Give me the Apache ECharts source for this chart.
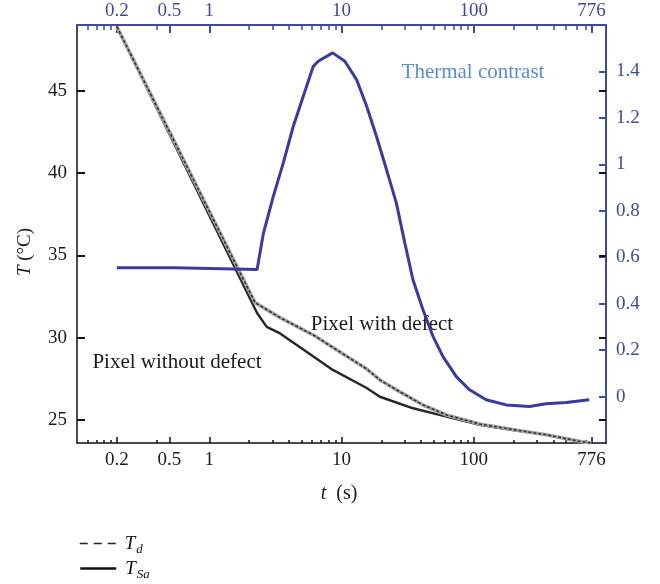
<!DOCTYPE html>
<html>
<head>
<meta charset="utf-8">
<script src="https://cdn.jsdelivr.net/npm/echarts@6/dist/echarts.min.js"></script>
<style>html,body{margin:0;padding:0;background:#fff;}#c{width:660px;height:584px;}</style>
</head>
<body>
<div id="c"></div>
<script>
// ---- data ----
const xTickVals = [0.2, 0.5, 1, 10, 100, 776];
const xTickLabels = ['0.2', '0.5', '1', '10', '100', '776'];
const xMinorVals = [0.12, 0.14, 0.16, 0.18, 0.4, 2, 3, 4, 5, 6, 7, 8, 9, 20, 30, 40, 50, 60, 70, 80, 90, 200, 300, 400, 500, 600, 700];
const tempTicks = [25, 30, 35, 40, 45];
const contrastTicks = [0, 0.2, 0.4, 0.6, 0.8, 1, 1.2, 1.4];

const tSa = [0.2, 2.3, 2.72, 3.43, 6.13, 8.6, 15.5, 19.5, 34.8, 62.2, 110.7, 197, 354, 632, 776];
const TSa = [48.9, 31.5, 30.66, 30.26, 28.86, 28.04, 26.94, 26.41, 25.71, 25.2, 24.7, 24.39, 24.09, 23.68, 23.6];

const tD = [0.2, 2.22, 3.43, 6.13, 15.5, 19.5, 27.5, 41.4, 62.2, 110.7, 197, 354, 632, 776];
const Td = [48.9, 32.13, 31.22, 30.16, 28.1, 27.43, 26.72, 25.91, 25.3, 24.75, 24.42, 24.1, 23.7, 23.6];

const tC = [0.2, 0.55, 0.56, 2.3, 2.57, 3.05, 3.63, 4.32, 5.14, 6.12, 6.67, 8.57, 10.6, 13.0, 15.5, 18.4, 21.9, 26.0, 30.1, 34.7, 41.3, 49.2, 58.5, 73.8, 93.0, 124, 176, 264, 352, 499, 747];
const contrast = [0.555, 0.555, 0.547, 0.547, 0.704, 0.862, 1.006, 1.164, 1.293, 1.422, 1.444, 1.48, 1.444, 1.365, 1.25, 1.12, 0.977, 0.833, 0.662, 0.503, 0.374, 0.259, 0.172, 0.086, 0.029, -0.014, -0.036, -0.043, -0.031, -0.026, -0.014];

// ---- chart ----
const SERIF = '"Liberation Serif", "DejaVu Serif", serif';
const BLUE = '#3d4a9e';
const LINEBLUE = '#393c9c';
const pair = (xs, ys) => xs.map((x, i) => [x, ys[i]]);
const logTicks = xTickVals.map(v => Math.log10(v));
const logMinor = xMinorVals.map(v => Math.log10(v));
const fmtX = v => { const i = logTicks.findIndex(x => Math.abs(x - v) < 1e-6); return i >= 0 ? xTickLabels[i] : ''; };

const chart = echarts.init(document.getElementById('c'));
const grid = { left: 77, right: 54, top: 25, bottom: 141 };
const legendRich = {
  i: { fontFamily: SERIF, fontStyle: 'italic', fontSize: 19, color: '#111' },
  s: { fontFamily: SERIF, fontStyle: 'italic', fontSize: 13, color: '#111', padding: [12, 0, 0, 1] }
};
const legendFmt = n => n === 'T_d' ? '{i|T}{s|d}' : '{i|T}{s|Sa}';

chart.setOption({
  animation: false,
  backgroundColor: '#fff',
  grid: grid,
  xAxis: [
    { type: 'log', logBase: 10, min: 0.1, max: 1000, position: 'bottom',
      axisLine: { show: true, onZero: false, lineStyle: { color: '#111', width: 1.5 } },
      axisTick: { show: false }, axisLabel: { show: false }, splitLine: { show: false }, minorTick: { show: false } },
    { type: 'value', min: -1, max: 3, position: 'bottom',
      axisLine: { show: false, onZero: false }, splitLine: { show: false },
      axisTick: { show: true, inside: true, length: 6, customValues: logTicks, lineStyle: { color: '#111', width: 1.5 } },
      axisLabel: { show: true, customValues: logTicks, formatter: fmtX, margin: 8, color: '#1a1a1a', fontFamily: SERIF, fontSize: 19 } },
    { type: 'value', min: -1, max: 3, position: 'bottom',
      axisLine: { show: false, onZero: false }, splitLine: { show: false }, axisLabel: { show: false },
      axisTick: { show: true, inside: true, length: 3, customValues: logMinor, lineStyle: { color: '#111', width: 1.5 } } },
    { type: 'value', min: -1, max: 3, position: 'top',
      axisLine: { show: true, onZero: false, lineStyle: { color: BLUE, width: 2 } }, splitLine: { show: false },
      axisTick: { show: true, inside: true, length: 8, customValues: logTicks, lineStyle: { color: BLUE, width: 2 } },
      axisLabel: { show: true, customValues: logTicks, formatter: fmtX, margin: 4, color: BLUE, fontFamily: SERIF, fontSize: 19 } },
    { type: 'value', min: -1, max: 3, position: 'top',
      axisLine: { show: false, onZero: false }, splitLine: { show: false }, axisLabel: { show: false },
      axisTick: { show: true, inside: true, length: 5, customValues: logMinor, lineStyle: { color: BLUE, width: 1.5 } } }
  ],
  yAxis: [
    { type: 'value', min: 23.6, max: 49, position: 'left',
      axisLine: { show: true, onZero: false, lineStyle: { color: '#111', width: 1.5 } }, splitLine: { show: false },
      axisTick: { show: true, inside: true, length: 8, customValues: tempTicks, lineStyle: { color: '#111', width: 2 } },
      axisLabel: { show: true, customValues: tempTicks, margin: 10, color: '#1a1a1a', fontFamily: SERIF, fontSize: 19 } },
    { type: 'value', min: -0.2, max: 1.6, position: 'right',
      axisLine: { show: true, onZero: false, lineStyle: { color: BLUE, width: 2 } }, splitLine: { show: false },
      axisTick: { show: true, inside: true, length: 7, customValues: contrastTicks, lineStyle: { color: BLUE, width: 2 } },
      axisLabel: { show: true, customValues: contrastTicks, margin: 10, color: BLUE, fontFamily: SERIF, fontSize: 19,
        formatter: v => String(+v.toFixed(1)) } },
    { type: 'value', min: 23.6, max: 49, position: 'right',
      axisLine: { show: false, onZero: false }, splitLine: { show: false }, axisLabel: { show: false },
      axisTick: { show: true, inside: true, length: 7, customValues: tempTicks, lineStyle: { color: '#111', width: 2 } } }
  ],
  legend: [
    { orient: 'vertical', left: 74, top: 529, itemWidth: 36, itemHeight: 14,
      data: [{ name: 'T_d', lineStyle: { type: [8, 6], width: 1.5, color: '#222' }, itemStyle: { opacity: 0 } }],
      formatter: legendFmt, textStyle: { padding: [0, 0, 0, 4], rich: legendRich } },
    { orient: 'vertical', left: 74, top: 554, itemWidth: 36, itemHeight: 14,
      data: [{ name: 'T_Sa', lineStyle: { width: 2.5, color: '#111' }, itemStyle: { opacity: 0 } }],
      formatter: legendFmt, textStyle: { padding: [0, 0, 0, 4], rich: legendRich } }
  ],
  graphic: [
    { type: 'text', x: 25, y: 252, rotation: Math.PI / 2, z: 0,
      style: { text: '{i|T} (°C)', align: 'center', verticalAlign: 'middle', textAlign: 'center', textVerticalAlign: 'middle',
        fontFamily: SERIF, fontSize: 19, fill: '#1a1a1a',
        rich: { i: { fontFamily: SERIF, fontSize: 19, fontStyle: 'italic', fill: '#1a1a1a' } } } },
    { type: 'text', x: 339, y: 494, z: 0,
      style: { text: '{i|t}  (s)', align: 'center', verticalAlign: 'middle', textAlign: 'center', textVerticalAlign: 'middle',
        fontFamily: SERIF, fontSize: 20, fill: '#1a1a1a',
        rich: { i: { fontFamily: SERIF, fontSize: 20, fontStyle: 'italic', fill: '#1a1a1a' } } } },
    { type: 'text', x: 473, y: 72, z: 0,
      style: { text: 'Thermal contrast', align: 'center', verticalAlign: 'middle', textAlign: 'center', textVerticalAlign: 'middle',
        fontFamily: SERIF, fontSize: 21, fill: '#5b8ccf' } },
    { type: 'text', x: 382, y: 324, z: 0,
      style: { text: 'Pixel with defect', align: 'center', verticalAlign: 'middle', textAlign: 'center', textVerticalAlign: 'middle',
        fontFamily: SERIF, fontSize: 21, fill: '#1a1a1a' } },
    { type: 'text', x: 177, y: 362, z: 0,
      style: { text: 'Pixel without defect', align: 'center', verticalAlign: 'middle', textAlign: 'center', textVerticalAlign: 'middle',
        fontFamily: SERIF, fontSize: 21, fill: '#1a1a1a' } }
  ],
  series: [
    { name: 'T_Sa', type: 'line', xAxisIndex: 0, yAxisIndex: 0, data: pair(tSa, TSa), symbol: 'none', z: 3,
      lineStyle: { color: '#262626', width: 2.4 }, itemStyle: { color: '#111' } },
    { name: 'T_d_under', type: 'line', xAxisIndex: 0, yAxisIndex: 0, data: pair(tD, Td), symbol: 'none', z: 3,
      lineStyle: { color: '#a8a8a8', width: 3.6 }, itemStyle: { color: '#a8a8a8' } },
    { name: 'T_d', type: 'line', xAxisIndex: 0, yAxisIndex: 0, data: pair(tD, Td), symbol: 'none', z: 4,
      lineStyle: { color: '#333', width: 1.6, type: [3, 2] }, itemStyle: { color: '#222' } },
    { name: 'Thermal contrast', type: 'line', xAxisIndex: 0, yAxisIndex: 1, data: pair(tC, contrast), symbol: 'none', z: 5,
      lineStyle: { color: LINEBLUE, width: 3 }, itemStyle: { color: LINEBLUE } }
  ]
});
</script>
</body>
</html>
